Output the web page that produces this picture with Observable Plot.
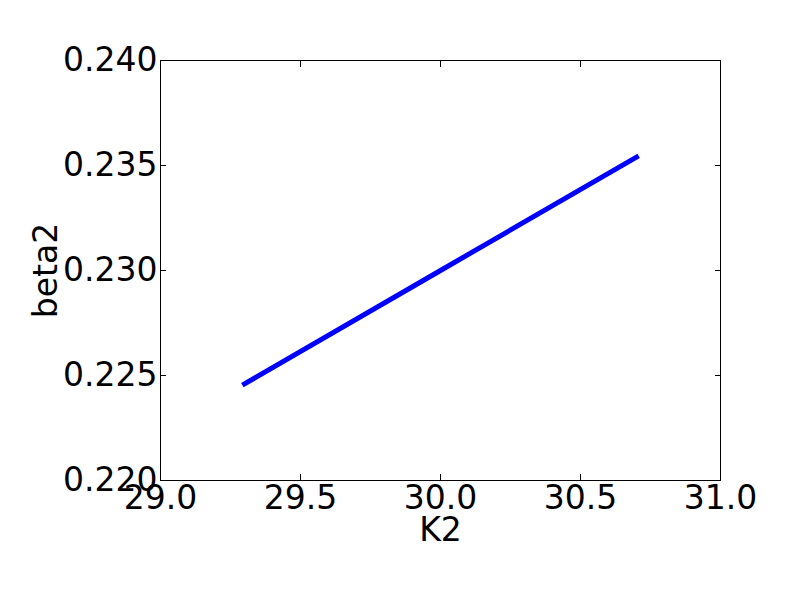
<!DOCTYPE html>
<html><head><meta charset="utf-8">
<script src="https://cdn.jsdelivr.net/npm/d3@7"></script>
<script src="https://cdn.jsdelivr.net/npm/@observablehq/plot@0.6"></script>
<style>body{margin:0;background:#fff}</style></head>
<body><div id="chart"></div>
<script>
const k2 = [29.3, 30.0, 30.7];
const beta2 = [0.2246, 0.2300, 0.2354];
const xTicks = [29.0, 29.5, 30.0, 30.5, 31.0];
const yTicks = [0.220, 0.225, 0.230, 0.235, 0.240];
const xLabel = "K2";
const yLabel = "beta2";

const data = k2.map((x, i) => ({x, y: beta2[i]}));
const fs = 33;
const noText = () => "";
const chart = Plot.plot({
  width: 800, height: 600,
  marginLeft: 160, marginRight: 80, marginTop: 60, marginBottom: 120,
  style: {fontFamily: "DejaVu Sans", background: "white", color: "black"},
  x: {domain: [29, 31]},
  y: {domain: [0.22, 0.24]},
  marks: [
    Plot.frame({stroke: "black", strokeWidth: 1}),
    Plot.line(data, {x: "x", y: "y", stroke: "#0000ff", strokeWidth: 5, strokeLinecap: "square"}),
    Plot.axisX({anchor: "bottom", ticks: xTicks, tickSize: -6, tickFormat: noText, label: null}),
    Plot.axisX({anchor: "top", ticks: xTicks, tickSize: -6, tickFormat: noText, label: null}),
    Plot.axisY({anchor: "left", ticks: yTicks, tickSize: -6, tickFormat: noText, label: null}),
    Plot.axisY({anchor: "right", ticks: yTicks, tickSize: -6, tickFormat: noText, label: null}),
    Plot.axisX({anchor: "bottom", ticks: xTicks, tickSize: 0, tickPadding: 5, tickFormat: d3.format(".1f"), fontSize: fs, label: null}),
    Plot.axisY({anchor: "left", ticks: yTicks, tickSize: 0, tickPadding: 3, tickFormat: d3.format(".3f"), fontSize: fs, label: null}),
    Plot.text([xLabel], {frameAnchor: "bottom", dy: 60, lineAnchor: "bottom", fontSize: fs, text: d => d}),
    Plot.text([yLabel], {frameAnchor: "left", dx: -104, rotate: -90, textAnchor: "middle", lineAnchor: "bottom", fontSize: fs, text: d => d})
  ]
});
document.getElementById("chart").append(chart);
</script>
</body></html>
